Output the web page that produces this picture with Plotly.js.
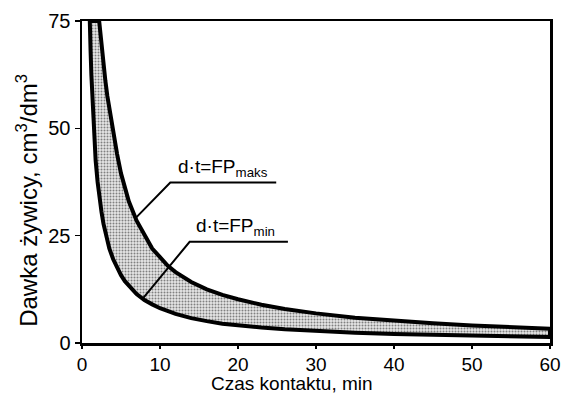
<!DOCTYPE html>
<html>
<head>
<meta charset="utf-8">
<script src="https://cdn.plot.ly/plotly-3.0.1.min.js"></script>
<style>html,body{margin:0;padding:0;background:#fff;}#chart{width:562px;height:396px;}</style>
</head>
<body>
<div id="chart"></div>
<script>
// Contact time (min) and resin dose (cm3/dm3)
const tMax = [2.2, 2.4, 2.6, 2.8, 3, 3.25, 3.5, 3.75, 4, 4.5, 5, 5.5, 6, 7, 8, 9, 10, 11, 12, 14, 16, 18, 20, 23, 26, 30, 35, 40, 45, 50, 55, 60];
const dMax = [75, 71, 67.5, 64, 61, 57.5, 54.5, 51.5, 49, 44, 39.5, 36, 33, 28.5, 25, 22, 20, 18, 16.5, 14.2, 12.5, 11.2, 10.2, 8.9, 7.9, 6.9, 5.9, 5.2, 4.6, 4.1, 3.7, 3.3];
const tMin = [1, 1.1, 1.2, 1.35, 1.5, 1.75, 2, 2.25, 2.5, 2.75, 3, 3.5, 4, 4.5, 5, 5.5, 6, 7, 8, 9, 10, 11, 12, 14, 16, 18, 20, 23, 26, 30, 35, 40, 45, 50, 55, 60];
const dMin = [75, 68, 62.5, 55.5, 50, 42.5, 37.5, 33.5, 30.5, 27.8, 25.5, 22, 19.5, 17.5, 15.8, 14.4, 13.2, 11.4, 10, 9, 8.1, 7.4, 6.8, 5.8, 5.1, 4.5, 4.1, 3.6, 3.2, 2.8, 2.4, 2.1, 1.9, 1.7, 1.55, 1.4];
const xTicks = [0, 10, 20, 30, 40, 50, 60];
const yTicks = [0, 25, 50, 75];
const xTitle = 'Czas kontaktu, min';
const yTitle = 'Dawka żywicy, cm<sup>3</sup>/dm<sup>3</sup>';
const labelMax = 'd·t=FP<sub>maks</sub>';
const labelMin = 'd·t=FP<sub>min</sub>';

const polyX = tMax.concat(tMin.slice().reverse(), [tMax[0]]);
const polyY = dMax.concat(dMin.slice().reverse(), [dMax[0]]);

const fam = 'Liberation Sans, Arial, sans-serif';
const tickFont = {family: fam, size: 20, color: '#000'};
const xTickFont = {family: fam, size: 19, color: '#000'};

const traces = [{
  x: polyX, y: polyY, mode: 'lines', type: 'scatter', fill: 'toself',
  fillcolor: '#cccccc',
  fillpattern: {shape: '.', fgcolor: '#808080', bgcolor: '#e6e6e6', size: 3, solidity: 0.35},
  line: {color: '#000', width: 4},
  hoverinfo: 'skip', showlegend: false
}];

const layout = {
  width: 562, height: 396,
  margin: {l: 82, r: 12, t: 21, b: 53},
  paper_bgcolor: '#fff', plot_bgcolor: '#fff',
  font: tickFont,
  showlegend: false,
  xaxis: {
    range: [0, 60], tickvals: xTicks, ticktext: xTicks.map(String),
    ticks: 'outside', ticklen: 3, tickwidth: 1.5, tickcolor: '#000',
    showline: true, linecolor: '#000', linewidth: 2.5, mirror: true,
    showgrid: false, zeroline: false, tickfont: xTickFont
  },
  yaxis: {
    range: [0, 75], tickvals: yTicks, ticktext: yTicks.map(String),
    ticks: 'outside', ticklen: 5, tickwidth: 1.5, tickcolor: '#000',
    showline: true, linecolor: '#000', linewidth: 2.5, mirror: true,
    showgrid: false, zeroline: false, tickfont: tickFont
  },
  shapes: [
    {type: 'path', xref: 'x', yref: 'y', path: 'M 24.9 37.4 L 11.32 37.4 L 6.96 29.25', line: {color: '#000', width: 2}},
    {type: 'path', xref: 'x', yref: 'y', path: 'M 26.4 23.57 L 13.8 23.57 L 7.81 10.4', line: {color: '#000', width: 2}}
  ],
  annotations: [
    {x: 12.0, y: 40.8, xref: 'x', yref: 'y', text: labelMax, showarrow: false, xanchor: 'left', yanchor: 'middle', font: {family: fam, size: 19, color: '#000'}},
    {x: 14.4, y: 27.0, xref: 'x', yref: 'y', text: labelMin, showarrow: false, xanchor: 'left', yanchor: 'middle', font: {family: fam, size: 19, color: '#000'}},
    {x: 0.449, y: -0.165, xref: 'paper', yref: 'paper', text: xTitle, showarrow: false, xanchor: 'center', yanchor: 'bottom', font: {family: fam, size: 19, color: '#000'}},
    {x: -0.118, y: 0.444, xref: 'paper', yref: 'paper', text: yTitle, textangle: -90, showarrow: false, xanchor: 'center', yanchor: 'middle', font: {family: fam, size: 24, color: '#000'}}
  ]
};

Plotly.newPlot('chart', traces, layout, {displayModeBar: false, staticPlot: true});
</script>
</body>
</html>
